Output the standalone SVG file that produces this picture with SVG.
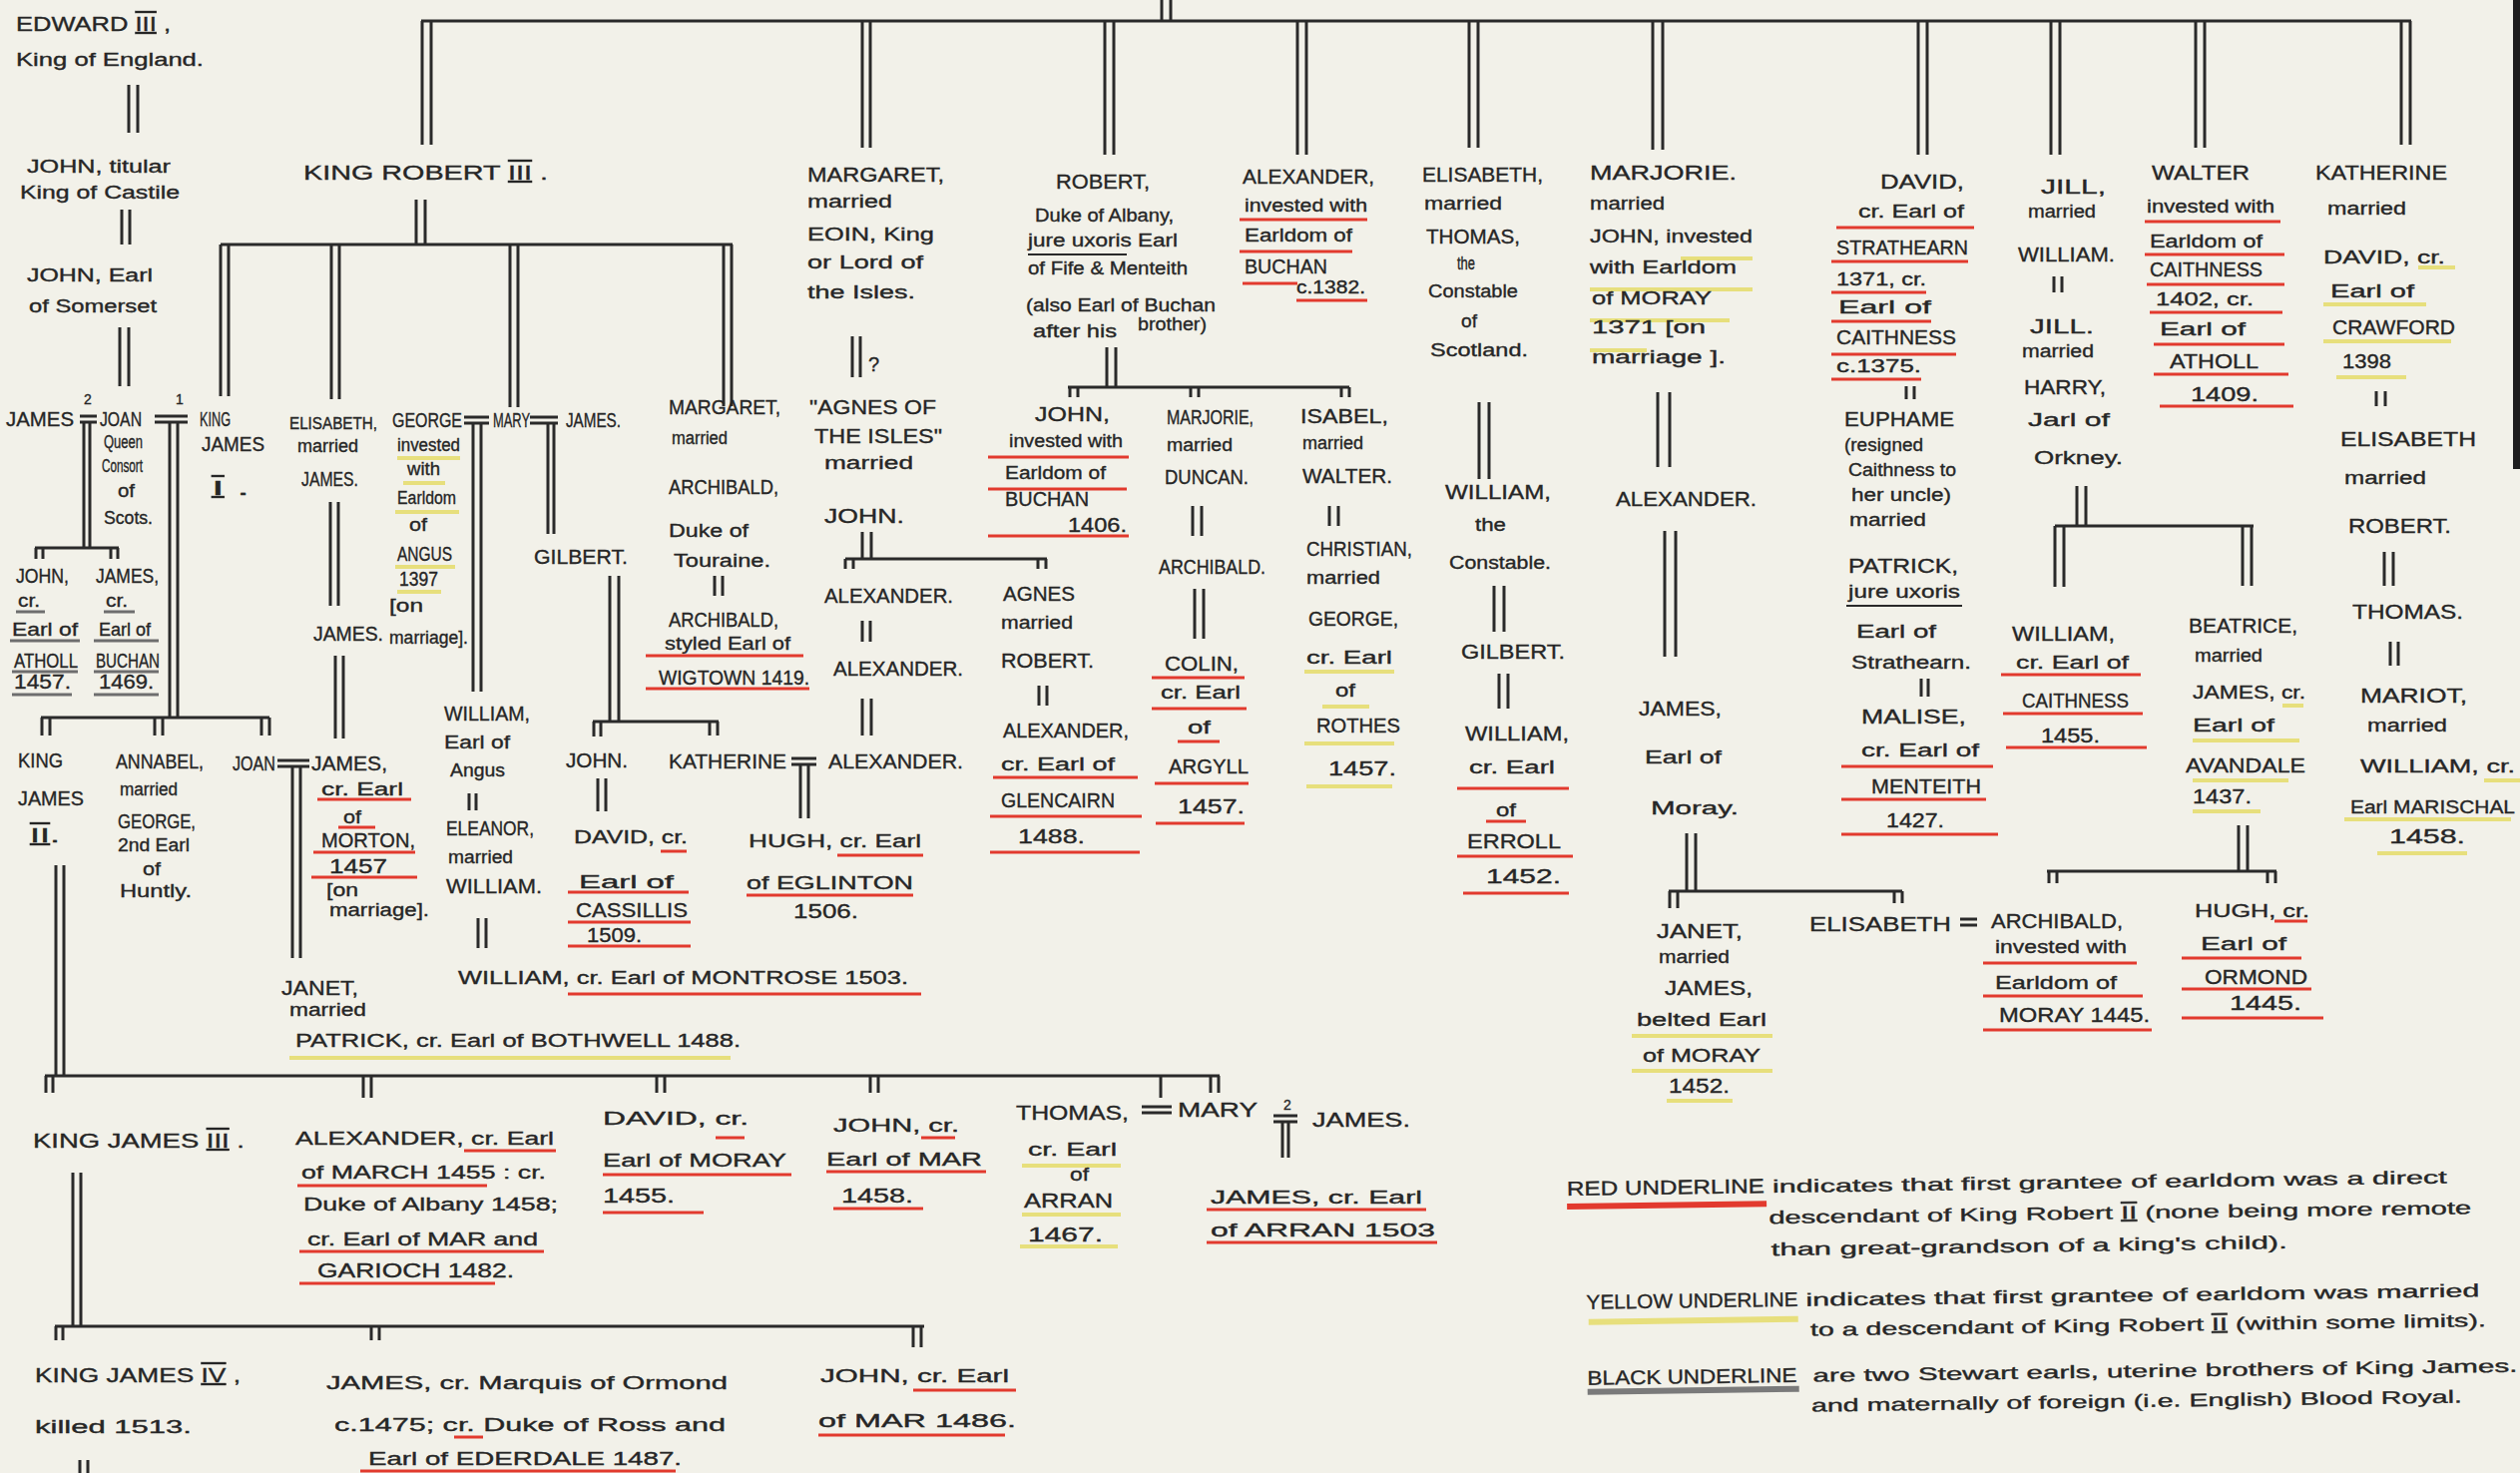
<svg xmlns="http://www.w3.org/2000/svg" width="2525" height="1476" viewBox="0 0 2525 1476">
<style>
text{font-family:"Liberation Sans","DejaVu Sans",sans-serif;fill:#262626;stroke:#262626;stroke-width:0.35}
.c{font-size:20px}
.w{font-size:18px}
.n{font-size:14px}
.sm{font-size:16px}
.k{fill:none;stroke:#2a2a2a;stroke-width:3}
.r{fill:none;stroke:#e23a2e;stroke-width:3}
.y{fill:none;stroke:#e7df7c;stroke-width:4}
.b{fill:none;stroke:#6e6e6e;stroke-width:3}
.u{fill:none;stroke:#2a2a2a;stroke-width:2}
.rn{text-decoration:underline overline}
</style>
<rect width="2525" height="1476" fill="#f2f1e9"/>
<rect x="2518" y="0" width="7" height="470" fill="#1e1e1e"/>

<g id="connectors" class="k">
<path d="M422 21H2416M1164 0V21M1173 0V21M423 21V145M432 21V145M864 21V148M872 21V148M1107 21V155M1116 21V155M1300 21V155M1309 21V155M1472 21V148M1481 21V148M1656 21V150M1666 21V150M1922 21V155M1931 21V155M2055 21V155M2064 21V155M2200 21V148M2209 21V148M2406 21V145M2415 21V145"/>
<path d="M129 85V133M138 85V133M122 210V245M130 210V245M120 328V387M129 328V387"/>
<path d="M417 200V245M426 200V245M221 245H734M221 245V397M229 245V397M332 245V400M340 245V400M511 245V408M519 245V408M725 245V407M733 245V407"/>
<path d="M80 417H97M80 423H97M84 423V549M90 423V549M35 549H119M36 549V560M43 549V560M111 549V560M118 549V560"/>
<path d="M155 417H188M155 423H188M170 423V719M178 423V719M41 719H270M42 719V737M50 719V737M155 719V737M163 719V737M262 719V737M270 719V737"/>
<path d="M56 867V1078M64 867V1078M45 1078H1222M46 1078V1095M53 1078V1095M364 1078V1100M372 1078V1100M658 1078V1095M666 1078V1095M872 1078V1095M880 1078V1095M1163 1078V1100M1213 1078V1095M1221 1078V1095"/>
<path d="M1144 1109H1174M1144 1115H1174M1276 1118H1300M1276 1124H1300M1285 1124V1160M1291 1124V1160"/>
<path d="M73 1175V1329M81 1175V1329M55 1329H926M56 1329V1343M63 1329V1343M372 1329V1343M380 1329V1343M915 1329V1350M923 1329V1350M80 1463V1476M88 1463V1476"/>
<path d="M465 418H490M465 424H490M474 424V693M482 424V693M531 418H559M531 424H559M549 424V535M555 424V535"/>
<path d="M611 577V723M620 577V723M594 723H720M595 723V738M602 723V738M711 723V737M719 723V737M599 780V813M607 780V813"/>
<path d="M470 795V812M477 795V812M479 920V950M487 920V950M331 503V607M339 503V607M336 657V740M344 657V740"/>
<path d="M278 762H310M278 768H310M293 768V960M301 768V960M793 760H818M793 766H818M802 766V820M810 766V820M716 577V597M724 577V597"/>
<path d="M854 337V378M862 337V378M864 533V560M873 533V560M847 560H1049M847 560V570M855 560V570M1040 560V570M1048 560V570M864 622V643M872 622V643M864 700V737M873 700V737M1041 687V707M1049 687V707"/>
<path d="M1109 348V388M1118 348V388M1070 388H1352M1072 388V398M1080 388V398M1193 388V398M1201 388V398M1344 388V398M1352 388V398M1195 507V537M1204 507V537M1197 590V640M1206 590V640M1332 507V527M1341 507V527"/>
<path d="M1482 403V480M1492 403V480M1497 587V633M1507 587V633M1502 675V710M1511 675V710"/>
<path d="M1661 393V468M1673 393V468M1668 532V658M1679 532V658M1690 835V893M1699 835V893M1672 893H1906M1673 893V910M1681 893V910M1898 893V905M1906 893V905M1964 921H1981M1964 927H1981"/>
<path d="M1910 387V400M1918 387V400M1925 680V698M1932 680V698"/>
<path d="M2058 277V293M2066 277V293M2081 487V527M2090 487V527M2059 527H2258M2059 527V588M2068 527V588M2247 527V587M2256 527V587M2243 827V873M2252 827V873M2051 873H2281M2053 873V885M2061 873V885M2272 873V885M2280 873V885"/>
<path d="M2381 392V407M2390 392V407M2389 553V587M2398 553V587M2395 643V667M2403 643V667"/>
</g>

<g id="marriage-numbers">
<text class="n" x="84" y="405">2</text>
<text class="n" x="176" y="405">1</text>
<text class="n" x="1286" y="1112">2</text>
</g>

<g id="edward-iii">
<text class="c" x="16" y="31" textLength="155" lengthAdjust="spacingAndGlyphs">EDWARD <tspan class="rn">III</tspan> ,</text>
<text class="w" x="16" y="66" textLength="188" lengthAdjust="spacingAndGlyphs">King of England.</text>
</g>
<g id="john-castile">
<text class="w" x="27" y="173" textLength="144" lengthAdjust="spacingAndGlyphs">JOHN, titular</text>
<text class="w" x="20" y="199" textLength="160" lengthAdjust="spacingAndGlyphs">King of Castile</text>
</g>
<g id="john-somerset">
<text class="w" x="27" y="282" textLength="126" lengthAdjust="spacingAndGlyphs">JOHN, Earl</text>
<text class="w" x="29" y="313" textLength="128" lengthAdjust="spacingAndGlyphs">of Somerset</text>
</g>
<g id="king-robert-iii">
<text class="c" x="304" y="180" textLength="245" lengthAdjust="spacingAndGlyphs">KING ROBERT <tspan class="rn">III</tspan> .</text>
</g>
<g id="james-second-husband"><text class="c" x="6" y="427" textLength="68" lengthAdjust="spacingAndGlyphs">JAMES</text></g>
<g id="joan-beaufort">
<text class="c" x="100" y="427" textLength="42" lengthAdjust="spacingAndGlyphs">JOAN</text>
<text class="w" x="104" y="449" textLength="39" lengthAdjust="spacingAndGlyphs">Queen</text>
<text class="w" x="102" y="473" textLength="41" lengthAdjust="spacingAndGlyphs">Consort</text>
<text class="w" x="118" y="498" textLength="17" lengthAdjust="spacingAndGlyphs">of</text>
<text class="w" x="104" y="525" textLength="49" lengthAdjust="spacingAndGlyphs">Scots.</text>
</g>
<g id="king-james-i">
<text class="c" x="200" y="427" textLength="31" lengthAdjust="spacingAndGlyphs">KING</text>
<text class="c" x="202" y="452" textLength="63" lengthAdjust="spacingAndGlyphs">JAMES</text>
<text class="c" x="212" y="496" textLength="38" lengthAdjust="spacingAndGlyphs"><tspan class="rn">I</tspan> .</text>
</g>
<g id="john-atholl">
<text class="c" x="16" y="584" textLength="53" lengthAdjust="spacingAndGlyphs">JOHN,</text>
<text class="w" x="18" y="608" textLength="22" lengthAdjust="spacingAndGlyphs">cr.</text><path class="b" d="M16 613H45"/>
<text class="w" x="12" y="637" textLength="66" lengthAdjust="spacingAndGlyphs">Earl of</text><path class="b" d="M10 642H80"/>
<text class="c" x="14" y="669" textLength="64" lengthAdjust="spacingAndGlyphs">ATHOLL</text><path class="b" d="M12 673H78"/>
<text class="c" x="14" y="690" textLength="57" lengthAdjust="spacingAndGlyphs">1457.</text><path class="b" d="M12 696H72"/>
</g>
<g id="james-buchan">
<text class="c" x="96" y="584" textLength="63" lengthAdjust="spacingAndGlyphs">JAMES,</text>
<text class="w" x="106" y="608" textLength="22" lengthAdjust="spacingAndGlyphs">cr.</text><path class="b" d="M104 613H135"/>
<text class="w" x="99" y="637" textLength="52" lengthAdjust="spacingAndGlyphs">Earl of</text><path class="b" d="M94 642H159"/>
<text class="c" x="96" y="669" textLength="64" lengthAdjust="spacingAndGlyphs">BUCHAN</text><path class="b" d="M94 673H159"/>
<text class="c" x="99" y="690" textLength="55" lengthAdjust="spacingAndGlyphs">1469.</text><path class="b" d="M94 696H159"/>
</g>
<g id="king-james-ii">
<text class="c" x="18" y="769" textLength="45" lengthAdjust="spacingAndGlyphs">KING</text>
<text class="c" x="18" y="807" textLength="66" lengthAdjust="spacingAndGlyphs">JAMES</text>
<text class="c" x="30" y="844" textLength="30" lengthAdjust="spacingAndGlyphs"><tspan class="rn">II</tspan>.</text>
</g>
<g id="annabel">
<text class="c" x="116" y="770" textLength="88" lengthAdjust="spacingAndGlyphs">ANNABEL,</text>
<text class="w" x="120" y="797" textLength="58" lengthAdjust="spacingAndGlyphs">married</text>
<text class="c" x="118" y="830" textLength="78" lengthAdjust="spacingAndGlyphs">GEORGE,</text>
<text class="w" x="118" y="853" textLength="72" lengthAdjust="spacingAndGlyphs">2nd Earl</text>
<text class="w" x="143" y="877" textLength="18" lengthAdjust="spacingAndGlyphs">of</text>
<text class="w" x="120" y="899" textLength="72" lengthAdjust="spacingAndGlyphs">Huntly.</text>
</g>
<g id="joan-daughter"><text class="c" x="233" y="772" textLength="43" lengthAdjust="spacingAndGlyphs">JOAN</text></g>
<g id="james-morton">
<text class="c" x="312" y="772" textLength="76" lengthAdjust="spacingAndGlyphs">JAMES,</text>
<text class="w" x="322" y="797" textLength="82" lengthAdjust="spacingAndGlyphs">cr. Earl</text><path class="r" d="M318 801H412"/>
<text class="w" x="344" y="825" textLength="18" lengthAdjust="spacingAndGlyphs">of</text><path class="r" d="M339 829H376"/>
<text class="c" x="322" y="849" textLength="94" lengthAdjust="spacingAndGlyphs">MORTON,</text><path class="r" d="M314 854H416"/>
<text class="c" x="330" y="875" textLength="58" lengthAdjust="spacingAndGlyphs">1457</text><path class="r" d="M312 879H418"/>
<text class="w" x="327" y="898" textLength="32" lengthAdjust="spacingAndGlyphs">[on</text>
<text class="w" x="330" y="918" textLength="100" lengthAdjust="spacingAndGlyphs">marriage].</text>
</g>
<g id="janet-bothwell">
<text class="c" x="282" y="997" textLength="77" lengthAdjust="spacingAndGlyphs">JANET,</text>
<text class="w" x="290" y="1018" textLength="77" lengthAdjust="spacingAndGlyphs">married</text>
<text class="w" x="296" y="1049" textLength="446" lengthAdjust="spacingAndGlyphs">PATRICK, cr. Earl of BOTHWELL 1488.</text><path class="y" d="M290 1060H732"/>
</g>
<g id="elisabeth-robert-iii">
<text class="sm" x="290" y="430" textLength="88" lengthAdjust="spacingAndGlyphs">ELISABETH,</text>
<text class="w" x="298" y="453" textLength="61" lengthAdjust="spacingAndGlyphs">married</text>
<text class="c" x="302" y="487" textLength="57" lengthAdjust="spacingAndGlyphs">JAMES.</text>
</g>
<g id="james-son"><text class="c" x="314" y="642" textLength="70" lengthAdjust="spacingAndGlyphs">JAMES.</text></g>
<g id="george-angus">
<text class="c" x="393" y="428" textLength="70" lengthAdjust="spacingAndGlyphs">GEORGE</text>
<text class="w" x="398" y="452" textLength="63" lengthAdjust="spacingAndGlyphs">invested</text><path class="y" d="M398 459H461"/>
<text class="w" x="408" y="476" textLength="33" lengthAdjust="spacingAndGlyphs">with</text><path class="y" d="M404 484H446"/>
<text class="w" x="398" y="505" textLength="59" lengthAdjust="spacingAndGlyphs">Earldom</text><path class="y" d="M396 513H460"/>
<text class="w" x="410" y="532" textLength="18" lengthAdjust="spacingAndGlyphs">of</text>
<text class="c" x="398" y="562" textLength="55" lengthAdjust="spacingAndGlyphs">ANGUS</text><path class="y" d="M396 568H456"/>
<text class="c" x="400" y="587" textLength="39" lengthAdjust="spacingAndGlyphs">1397</text><path class="y" d="M398 593H442"/>
<text class="w" x="390" y="613" textLength="34" lengthAdjust="spacingAndGlyphs">[on</text>
<text class="w" x="390" y="645" textLength="79" lengthAdjust="spacingAndGlyphs">marriage].</text>
</g>
<g id="mary-robert-iii"><text class="c" x="494" y="428" textLength="37" lengthAdjust="spacingAndGlyphs">MARY</text></g>
<g id="james-mary"><text class="c" x="567" y="428" textLength="55" lengthAdjust="spacingAndGlyphs">JAMES.</text></g>
<g id="gilbert"><text class="c" x="535" y="565" textLength="94" lengthAdjust="spacingAndGlyphs">GILBERT.</text></g>
<g id="william-angus">
<text class="c" x="445" y="722" textLength="86" lengthAdjust="spacingAndGlyphs">WILLIAM,</text>
<text class="w" x="445" y="750" textLength="66" lengthAdjust="spacingAndGlyphs">Earl of</text>
<text class="w" x="451" y="778" textLength="55" lengthAdjust="spacingAndGlyphs">Angus</text>
<text class="c" x="447" y="837" textLength="88" lengthAdjust="spacingAndGlyphs">ELEANOR,</text>
<text class="w" x="449" y="865" textLength="65" lengthAdjust="spacingAndGlyphs">married</text>
<text class="c" x="447" y="895" textLength="96" lengthAdjust="spacingAndGlyphs">WILLIAM.</text>
</g>
<g id="william-montrose">
<text class="w" x="459" y="986" textLength="451" lengthAdjust="spacingAndGlyphs">WILLIAM, cr. Earl of MONTROSE 1503.</text><path class="r" d="M569 996H923"/>
</g>
<g id="john-gilbert"><text class="c" x="567" y="769" textLength="62" lengthAdjust="spacingAndGlyphs">JOHN.</text></g>
<g id="david-cassillis">
<text class="w" x="575" y="845" textLength="114" lengthAdjust="spacingAndGlyphs">DAVID, cr.</text><path class="r" d="M662 853H688"/>
<text class="w" x="580" y="890" textLength="95" lengthAdjust="spacingAndGlyphs">Earl of</text><path class="r" d="M569 894H690"/>
<text class="c" x="577" y="919" textLength="112" lengthAdjust="spacingAndGlyphs">CASSILLIS</text><path class="r" d="M569 924H692"/>
<text class="c" x="588" y="944" textLength="55" lengthAdjust="spacingAndGlyphs">1509.</text><path class="r" d="M569 948H692"/>
</g>
<g id="katherine-gilbert"><text class="c" x="670" y="770" textLength="118" lengthAdjust="spacingAndGlyphs">KATHERINE</text></g>
<g id="alexander-katherine"><text class="c" x="830" y="770" textLength="135" lengthAdjust="spacingAndGlyphs">ALEXANDER.</text></g>
<g id="hugh-eglinton">
<text class="w" x="750" y="849" textLength="173" lengthAdjust="spacingAndGlyphs">HUGH, cr. Earl</text><path class="r" d="M839 857H925"/>
<text class="w" x="748" y="891" textLength="167" lengthAdjust="spacingAndGlyphs">of EGLINTON</text><path class="r" d="M748 897H915"/>
<text class="c" x="795" y="920" textLength="65" lengthAdjust="spacingAndGlyphs">1506.</text>
</g>
<g id="margaret-robert-iii">
<text class="c" x="670" y="415" textLength="112" lengthAdjust="spacingAndGlyphs">MARGARET,</text>
<text class="w" x="673" y="445" textLength="56" lengthAdjust="spacingAndGlyphs">married</text>
<text class="c" x="670" y="495" textLength="110" lengthAdjust="spacingAndGlyphs">ARCHIBALD,</text>
<text class="w" x="670" y="538" textLength="80" lengthAdjust="spacingAndGlyphs">Duke of</text>
<text class="w" x="675" y="568" textLength="97" lengthAdjust="spacingAndGlyphs">Touraine.</text>
</g>
<g id="archibald-wigtown">
<text class="c" x="670" y="628" textLength="110" lengthAdjust="spacingAndGlyphs">ARCHIBALD,</text>
<text class="w" x="666" y="651" textLength="126" lengthAdjust="spacingAndGlyphs">styled Earl of</text><path class="r" d="M647 657H805"/>
<text class="c" x="660" y="686" textLength="151" lengthAdjust="spacingAndGlyphs">WIGTOWN 1419.</text><path class="r" d="M647 690H811"/>
</g>
<g id="margaret-robert-ii">
<text class="c" x="809" y="182" textLength="137" lengthAdjust="spacingAndGlyphs">MARGARET,</text>
<text class="w" x="809" y="208" textLength="85" lengthAdjust="spacingAndGlyphs">married</text>
<text class="w" x="809" y="241" textLength="127" lengthAdjust="spacingAndGlyphs">EOIN, King</text>
<text class="w" x="809" y="269" textLength="116" lengthAdjust="spacingAndGlyphs">or Lord of</text>
<text class="w" x="809" y="299" textLength="108" lengthAdjust="spacingAndGlyphs">the Isles.</text>
<text class="c" x="870" y="372">?</text>
</g>
<g id="agnes-of-the-isles">
<text class="c" x="811" y="415" textLength="127" lengthAdjust="spacingAndGlyphs">"AGNES OF</text>
<text class="c" x="816" y="444" textLength="128" lengthAdjust="spacingAndGlyphs">THE ISLES"</text>
<text class="w" x="826" y="470" textLength="89" lengthAdjust="spacingAndGlyphs">married</text>
<text class="c" x="826" y="524" textLength="80" lengthAdjust="spacingAndGlyphs">JOHN.</text>
</g>
<g id="alexander-1"><text class="c" x="826" y="604" textLength="129" lengthAdjust="spacingAndGlyphs">ALEXANDER.</text></g>
<g id="alexander-2"><text class="c" x="835" y="677" textLength="130" lengthAdjust="spacingAndGlyphs">ALEXANDER.</text></g>
<g id="agnes-robert">
<text class="c" x="1005" y="602" textLength="72" lengthAdjust="spacingAndGlyphs">AGNES</text>
<text class="w" x="1003" y="630" textLength="72" lengthAdjust="spacingAndGlyphs">married</text>
<text class="c" x="1003" y="669" textLength="93" lengthAdjust="spacingAndGlyphs">ROBERT.</text>
</g>
<g id="alexander-glencairn">
<text class="c" x="1005" y="739" textLength="126" lengthAdjust="spacingAndGlyphs">ALEXANDER,</text>
<text class="w" x="1003" y="772" textLength="114" lengthAdjust="spacingAndGlyphs">cr. Earl of</text><path class="r" d="M995 779H1140"/>
<text class="c" x="1003" y="809" textLength="114" lengthAdjust="spacingAndGlyphs">GLENCAIRN</text><path class="r" d="M992 818H1144"/>
<text class="c" x="1020" y="845" textLength="67" lengthAdjust="spacingAndGlyphs">1488.</text><path class="r" d="M992 854H1142"/>
</g>
<g id="robert-albany">
<text class="c" x="1058" y="189" textLength="94" lengthAdjust="spacingAndGlyphs">ROBERT,</text>
<text class="w" x="1037" y="222" textLength="139" lengthAdjust="spacingAndGlyphs">Duke of Albany,</text>
<text class="w" x="1030" y="247" textLength="150" lengthAdjust="spacingAndGlyphs">jure uxoris Earl</text><path class="u" d="M1030 255H1129"/>
<text class="w" x="1030" y="275" textLength="160" lengthAdjust="spacingAndGlyphs">of Fife &amp; Menteith</text>
<text class="w" x="1028" y="312" textLength="190" lengthAdjust="spacingAndGlyphs">(also Earl of Buchan</text>
<text class="w" x="1035" y="338" textLength="84" lengthAdjust="spacingAndGlyphs">after his</text>
<text class="w" x="1140" y="331" textLength="69" lengthAdjust="spacingAndGlyphs">brother)</text>
</g>
<g id="john-buchan">
<text class="c" x="1037" y="422" textLength="75" lengthAdjust="spacingAndGlyphs">JOHN,</text>
<text class="w" x="1011" y="448" textLength="114" lengthAdjust="spacingAndGlyphs">invested with</text><path class="r" d="M990 458H1131"/>
<text class="w" x="1007" y="480" textLength="101" lengthAdjust="spacingAndGlyphs">Earldom of</text><path class="r" d="M990 490H1129"/>
<text class="c" x="1007" y="507" textLength="84" lengthAdjust="spacingAndGlyphs">BUCHAN</text>
<text class="c" x="1070" y="533" textLength="59" lengthAdjust="spacingAndGlyphs">1406.</text><path class="r" d="M990 537H1131"/>
</g>
<g id="marjorie-albany">
<text class="c" x="1169" y="425" textLength="87" lengthAdjust="spacingAndGlyphs">MARJORIE,</text>
<text class="w" x="1169" y="452" textLength="66" lengthAdjust="spacingAndGlyphs">married</text>
<text class="c" x="1167" y="485" textLength="84" lengthAdjust="spacingAndGlyphs">DUNCAN.</text>
</g>
<g id="archibald-duncan"><text class="c" x="1161" y="575" textLength="107" lengthAdjust="spacingAndGlyphs">ARCHIBALD.</text></g>
<g id="colin-argyll">
<text class="c" x="1167" y="672" textLength="74" lengthAdjust="spacingAndGlyphs">COLIN,</text><path class="r" d="M1154 679H1247"/>
<text class="w" x="1163" y="700" textLength="80" lengthAdjust="spacingAndGlyphs">cr. Earl</text><path class="r" d="M1154 710H1249"/>
<text class="w" x="1190" y="735" textLength="23" lengthAdjust="spacingAndGlyphs">of</text><path class="r" d="M1180 743H1222"/>
<text class="c" x="1171" y="775" textLength="80" lengthAdjust="spacingAndGlyphs">ARGYLL</text><path class="r" d="M1157 785H1251"/>
<text class="c" x="1180" y="815" textLength="67" lengthAdjust="spacingAndGlyphs">1457.</text><path class="r" d="M1158 825H1247"/>
</g>
<g id="isabel">
<text class="c" x="1303" y="424" textLength="88" lengthAdjust="spacingAndGlyphs">ISABEL,</text>
<text class="w" x="1305" y="450" textLength="61" lengthAdjust="spacingAndGlyphs">married</text>
<text class="c" x="1305" y="484" textLength="90" lengthAdjust="spacingAndGlyphs">WALTER.</text>
</g>
<g id="christian-rothes">
<text class="c" x="1309" y="557" textLength="106" lengthAdjust="spacingAndGlyphs">CHRISTIAN,</text>
<text class="w" x="1309" y="585" textLength="74" lengthAdjust="spacingAndGlyphs">married</text>
<text class="c" x="1311" y="627" textLength="90" lengthAdjust="spacingAndGlyphs">GEORGE,</text>
<text class="w" x="1309" y="665" textLength="86" lengthAdjust="spacingAndGlyphs">cr. Earl</text><path class="y" d="M1307 673H1397"/>
<text class="w" x="1338" y="698" textLength="20" lengthAdjust="spacingAndGlyphs">of</text><path class="y" d="M1325 708H1372"/>
<text class="c" x="1319" y="734" textLength="84" lengthAdjust="spacingAndGlyphs">ROTHES</text><path class="y" d="M1307 745H1397"/>
<text class="c" x="1331" y="777" textLength="68" lengthAdjust="spacingAndGlyphs">1457.</text><path class="y" d="M1309 788H1395"/>
</g>
<g id="alexander-buchan">
<text class="c" x="1245" y="184" textLength="132" lengthAdjust="spacingAndGlyphs">ALEXANDER,</text>
<text class="w" x="1247" y="212" textLength="123" lengthAdjust="spacingAndGlyphs">invested with</text><path class="r" d="M1242 220H1370"/>
<text class="w" x="1247" y="242" textLength="108" lengthAdjust="spacingAndGlyphs">Earldom of</text><path class="r" d="M1242 252H1355"/>
<text class="c" x="1247" y="274" textLength="83" lengthAdjust="spacingAndGlyphs">BUCHAN</text><path class="r" d="M1245 284H1300"/>
<text class="w" x="1299" y="294" textLength="69" lengthAdjust="spacingAndGlyphs">c.1382.</text><path class="r" d="M1299 301H1370"/>
</g>
<g id="elisabeth-robert-ii">
<text class="c" x="1425" y="182" textLength="121" lengthAdjust="spacingAndGlyphs">ELISABETH,</text>
<text class="w" x="1427" y="210" textLength="78" lengthAdjust="spacingAndGlyphs">married</text>
<text class="c" x="1429" y="244" textLength="94" lengthAdjust="spacingAndGlyphs">THOMAS,</text>
<text class="w" x="1460" y="270" textLength="18" lengthAdjust="spacingAndGlyphs">the</text>
<text class="w" x="1431" y="298" textLength="90" lengthAdjust="spacingAndGlyphs">Constable</text>
<text class="w" x="1464" y="328" textLength="16" lengthAdjust="spacingAndGlyphs">of</text>
<text class="w" x="1433" y="357" textLength="98" lengthAdjust="spacingAndGlyphs">Scotland.</text>
</g>
<g id="william-constable">
<text class="c" x="1448" y="500" textLength="106" lengthAdjust="spacingAndGlyphs">WILLIAM,</text>
<text class="w" x="1478" y="532" textLength="31" lengthAdjust="spacingAndGlyphs">the</text>
<text class="w" x="1452" y="570" textLength="102" lengthAdjust="spacingAndGlyphs">Constable.</text>
</g>
<g id="gilbert-constable"><text class="c" x="1464" y="660" textLength="104" lengthAdjust="spacingAndGlyphs">GILBERT.</text></g>
<g id="william-erroll">
<text class="c" x="1468" y="742" textLength="104" lengthAdjust="spacingAndGlyphs">WILLIAM,</text>
<text class="w" x="1472" y="775" textLength="86" lengthAdjust="spacingAndGlyphs">cr. Earl</text><path class="r" d="M1460 790H1572"/>
<text class="w" x="1499" y="818" textLength="20" lengthAdjust="spacingAndGlyphs">of</text><path class="r" d="M1489 823H1529"/>
<text class="c" x="1470" y="850" textLength="94" lengthAdjust="spacingAndGlyphs">ERROLL</text><path class="r" d="M1460 858H1576"/>
<text class="c" x="1489" y="885" textLength="75" lengthAdjust="spacingAndGlyphs">1452.</text><path class="r" d="M1466 895H1572"/>
</g>
<g id="marjorie-robert-ii">
<text class="c" x="1593" y="180" textLength="147" lengthAdjust="spacingAndGlyphs">MARJORIE.</text>
<text class="w" x="1593" y="210" textLength="75" lengthAdjust="spacingAndGlyphs">married</text>
<text class="w" x="1593" y="243" textLength="163" lengthAdjust="spacingAndGlyphs">JOHN, invested</text><path class="y" d="M1684 259H1756"/>
<text class="w" x="1593" y="274" textLength="147" lengthAdjust="spacingAndGlyphs">with Earldom</text><path class="y" d="M1593 290H1756"/>
<text class="w" x="1595" y="305" textLength="120" lengthAdjust="spacingAndGlyphs">of MORAY</text><path class="y" d="M1593 321H1733"/>
<text class="w" x="1595" y="334" textLength="114" lengthAdjust="spacingAndGlyphs">1371 [on</text><path class="y" d="M1593 351H1650"/>
<text class="w" x="1595" y="364" textLength="134" lengthAdjust="spacingAndGlyphs">marriage ].</text>
</g>
<g id="alexander-moray"><text class="c" x="1619" y="507" textLength="141" lengthAdjust="spacingAndGlyphs">ALEXANDER.</text></g>
<g id="james-moray">
<text class="c" x="1642" y="717" textLength="83" lengthAdjust="spacingAndGlyphs">JAMES,</text>
<text class="w" x="1648" y="765" textLength="77" lengthAdjust="spacingAndGlyphs">Earl of</text>
<text class="w" x="1654" y="816" textLength="88" lengthAdjust="spacingAndGlyphs">Moray.</text>
</g>
<g id="janet-moray">
<text class="c" x="1660" y="940" textLength="86" lengthAdjust="spacingAndGlyphs">JANET,</text>
<text class="w" x="1662" y="965" textLength="71" lengthAdjust="spacingAndGlyphs">married</text>
<text class="c" x="1668" y="997" textLength="88" lengthAdjust="spacingAndGlyphs">JAMES,</text>
<text class="w" x="1640" y="1028" textLength="130" lengthAdjust="spacingAndGlyphs">belted Earl</text><path class="y" d="M1635 1038H1776"/>
<text class="w" x="1646" y="1064" textLength="118" lengthAdjust="spacingAndGlyphs">of MORAY</text><path class="y" d="M1635 1073H1776"/>
<text class="c" x="1672" y="1095" textLength="61" lengthAdjust="spacingAndGlyphs">1452.</text><path class="y" d="M1670 1103H1736"/>
</g>
<g id="david-strathearn">
<text class="c" x="1884" y="189" textLength="84" lengthAdjust="spacingAndGlyphs">DAVID,</text>
<text class="w" x="1862" y="218" textLength="106" lengthAdjust="spacingAndGlyphs">cr. Earl of</text><path class="r" d="M1840 228H1978"/>
<text class="c" x="1840" y="255" textLength="132" lengthAdjust="spacingAndGlyphs">STRATHEARN</text><path class="r" d="M1835 262H1972"/>
<text class="w" x="1840" y="286" textLength="90" lengthAdjust="spacingAndGlyphs">1371, cr.</text><path class="r" d="M1835 293H1930"/>
<text class="w" x="1842" y="314" textLength="93" lengthAdjust="spacingAndGlyphs">Earl of</text><path class="r" d="M1835 322H1935"/>
<text class="c" x="1840" y="345" textLength="120" lengthAdjust="spacingAndGlyphs">CAITHNESS</text><path class="r" d="M1835 355H1960"/>
<text class="w" x="1840" y="373" textLength="85" lengthAdjust="spacingAndGlyphs">c.1375.</text><path class="r" d="M1835 380H1925"/>
</g>
<g id="euphame">
<text class="c" x="1848" y="427" textLength="110" lengthAdjust="spacingAndGlyphs">EUPHAME</text>
<text class="w" x="1848" y="452" textLength="79" lengthAdjust="spacingAndGlyphs">(resigned</text>
<text class="w" x="1852" y="477" textLength="108" lengthAdjust="spacingAndGlyphs">Caithness to</text>
<text class="w" x="1855" y="502" textLength="100" lengthAdjust="spacingAndGlyphs">her uncle)</text>
<text class="w" x="1853" y="527" textLength="77" lengthAdjust="spacingAndGlyphs">married</text>
</g>
<g id="patrick-strathearn">
<text class="c" x="1852" y="574" textLength="110" lengthAdjust="spacingAndGlyphs">PATRICK,</text>
<text class="w" x="1852" y="599" textLength="112" lengthAdjust="spacingAndGlyphs">jure uxoris</text><path class="u" d="M1850 607H1966"/>
<text class="w" x="1860" y="639" textLength="80" lengthAdjust="spacingAndGlyphs">Earl of</text>
<text class="w" x="1855" y="670" textLength="120" lengthAdjust="spacingAndGlyphs">Strathearn.</text>
</g>
<g id="malise-menteith">
<text class="c" x="1865" y="725" textLength="105" lengthAdjust="spacingAndGlyphs">MALISE,</text>
<text class="w" x="1865" y="758" textLength="118" lengthAdjust="spacingAndGlyphs">cr. Earl of</text><path class="r" d="M1845 768H1997"/>
<text class="c" x="1875" y="795" textLength="110" lengthAdjust="spacingAndGlyphs">MENTEITH</text><path class="r" d="M1845 801H1990"/>
<text class="c" x="1890" y="829" textLength="58" lengthAdjust="spacingAndGlyphs">1427.</text><path class="r" d="M1845 836H2002"/>
</g>
<g id="jill">
<text class="c" x="2045" y="194" textLength="65" lengthAdjust="spacingAndGlyphs">JILL,</text>
<text class="w" x="2032" y="218" textLength="68" lengthAdjust="spacingAndGlyphs">married</text>
<text class="c" x="2022" y="262" textLength="97" lengthAdjust="spacingAndGlyphs">WILLIAM.</text>
</g>
<g id="jill-orkney">
<text class="c" x="2034" y="334" textLength="64" lengthAdjust="spacingAndGlyphs">JILL.</text>
<text class="w" x="2026" y="358" textLength="72" lengthAdjust="spacingAndGlyphs">married</text>
<text class="c" x="2028" y="395" textLength="82" lengthAdjust="spacingAndGlyphs">HARRY,</text>
<text class="w" x="2032" y="427" textLength="82" lengthAdjust="spacingAndGlyphs">Jarl of</text>
<text class="w" x="2038" y="465" textLength="89" lengthAdjust="spacingAndGlyphs">Orkney.</text>
</g>
<g id="william-caithness">
<text class="c" x="2016" y="642" textLength="103" lengthAdjust="spacingAndGlyphs">WILLIAM,</text>
<text class="w" x="2020" y="670" textLength="113" lengthAdjust="spacingAndGlyphs">cr. Earl of</text><path class="r" d="M2005 676H2145"/>
<text class="c" x="2026" y="709" textLength="107" lengthAdjust="spacingAndGlyphs">CAITHNESS</text><path class="r" d="M2007 715H2147"/>
<text class="c" x="2045" y="744" textLength="59" lengthAdjust="spacingAndGlyphs">1455.</text><path class="r" d="M2010 749H2151"/>
</g>
<g id="beatrice">
<text class="c" x="2193" y="634" textLength="109" lengthAdjust="spacingAndGlyphs">BEATRICE,</text>
<text class="w" x="2199" y="663" textLength="68" lengthAdjust="spacingAndGlyphs">married</text>
<text class="w" x="2197" y="700" textLength="113" lengthAdjust="spacingAndGlyphs">JAMES, cr.</text><path class="y" d="M2287 707H2308"/>
<text class="w" x="2197" y="733" textLength="82" lengthAdjust="spacingAndGlyphs">Earl of</text><path class="y" d="M2197 742H2304"/>
<text class="c" x="2190" y="774" textLength="120" lengthAdjust="spacingAndGlyphs">AVANDALE</text><path class="y" d="M2197 782H2293"/>
<text class="c" x="2197" y="805" textLength="59" lengthAdjust="spacingAndGlyphs">1437.</text><path class="y" d="M2197 813H2265"/>
</g>
<g id="elisabeth-moray"><text class="c" x="1813" y="933" textLength="142" lengthAdjust="spacingAndGlyphs">ELISABETH</text></g>
<g id="archibald-moray">
<text class="c" x="1995" y="930" textLength="132" lengthAdjust="spacingAndGlyphs">ARCHIBALD,</text>
<text class="w" x="1999" y="955" textLength="132" lengthAdjust="spacingAndGlyphs">invested with</text><path class="r" d="M1987 965H2141"/>
<text class="w" x="1999" y="991" textLength="122" lengthAdjust="spacingAndGlyphs">Earldom of</text><path class="r" d="M1987 998H2147"/>
<text class="c" x="2003" y="1024" textLength="151" lengthAdjust="spacingAndGlyphs">MORAY 1445.</text><path class="r" d="M1987 1032H2156"/>
</g>
<g id="hugh-ormond">
<text class="w" x="2199" y="919" textLength="115" lengthAdjust="spacingAndGlyphs">HUGH, cr.</text><path class="r" d="M2279 923H2312"/>
<text class="w" x="2205" y="952" textLength="86" lengthAdjust="spacingAndGlyphs">Earl of</text><path class="r" d="M2186 960H2306"/>
<text class="c" x="2209" y="986" textLength="103" lengthAdjust="spacingAndGlyphs">ORMOND</text><path class="r" d="M2186 991H2316"/>
<text class="c" x="2234" y="1012" textLength="72" lengthAdjust="spacingAndGlyphs">1445.</text><path class="r" d="M2186 1020H2328"/>
</g>
<g id="walter">
<text class="c" x="2156" y="180" textLength="98" lengthAdjust="spacingAndGlyphs">WALTER</text>
<text class="w" x="2151" y="213" textLength="128" lengthAdjust="spacingAndGlyphs">invested with</text><path class="r" d="M2149 222H2285"/>
<text class="w" x="2154" y="248" textLength="113" lengthAdjust="spacingAndGlyphs">Earldom of</text><path class="r" d="M2149 255H2289"/>
<text class="c" x="2154" y="277" textLength="113" lengthAdjust="spacingAndGlyphs">CAITHNESS</text><path class="r" d="M2151 285H2289"/>
<text class="w" x="2160" y="306" textLength="98" lengthAdjust="spacingAndGlyphs">1402, cr.</text><path class="r" d="M2154 313H2287"/>
<text class="w" x="2164" y="336" textLength="86" lengthAdjust="spacingAndGlyphs">Earl of</text><path class="r" d="M2158 345H2289"/>
<text class="c" x="2174" y="369" textLength="89" lengthAdjust="spacingAndGlyphs">ATHOLL</text><path class="r" d="M2158 375H2293"/>
<text class="c" x="2195" y="402" textLength="68" lengthAdjust="spacingAndGlyphs">1409.</text><path class="r" d="M2164 407H2298"/>
</g>
<g id="katherine-robert-ii">
<text class="c" x="2320" y="180" textLength="132" lengthAdjust="spacingAndGlyphs">KATHERINE</text>
<text class="w" x="2332" y="215" textLength="79" lengthAdjust="spacingAndGlyphs">married</text>
<text class="w" x="2328" y="264" textLength="122" lengthAdjust="spacingAndGlyphs">DAVID, cr.</text><path class="y" d="M2423 268H2460"/>
<text class="w" x="2335" y="298" textLength="84" lengthAdjust="spacingAndGlyphs">Earl of</text><path class="y" d="M2328 305H2431"/>
<text class="c" x="2337" y="335" textLength="123" lengthAdjust="spacingAndGlyphs">CRAWFORD</text><path class="y" d="M2328 342H2456"/>
<text class="c" x="2347" y="369" textLength="49" lengthAdjust="spacingAndGlyphs">1398</text><path class="y" d="M2341 378H2411"/>
</g>
<g id="elisabeth-crawford">
<text class="c" x="2345" y="447" textLength="136" lengthAdjust="spacingAndGlyphs">ELISABETH</text>
<text class="w" x="2349" y="485" textLength="82" lengthAdjust="spacingAndGlyphs">married</text>
<text class="c" x="2353" y="534" textLength="103" lengthAdjust="spacingAndGlyphs">ROBERT.</text>
</g>
<g id="thomas-crawford"><text class="c" x="2357" y="620" textLength="111" lengthAdjust="spacingAndGlyphs">THOMAS.</text></g>
<g id="mariot">
<text class="c" x="2365" y="704" textLength="107" lengthAdjust="spacingAndGlyphs">MARIOT,</text>
<text class="w" x="2372" y="733" textLength="80" lengthAdjust="spacingAndGlyphs">married</text>
<text class="w" x="2365" y="774" textLength="155" lengthAdjust="spacingAndGlyphs">WILLIAM, cr.</text><path class="y" d="M2489 782H2525"/>
<text class="w" x="2355" y="815" textLength="165" lengthAdjust="spacingAndGlyphs">Earl MARISCHAL</text><path class="y" d="M2349 821H2516"/>
<text class="c" x="2394" y="845" textLength="76" lengthAdjust="spacingAndGlyphs">1458.</text><path class="y" d="M2382 855H2472"/>
</g>
<g id="king-james-iii"><text class="c" x="33" y="1150" textLength="212" lengthAdjust="spacingAndGlyphs">KING JAMES <tspan class="rn">III</tspan> .</text></g>
<g id="alexander-albany-march">
<text class="w" x="296" y="1147" textLength="259" lengthAdjust="spacingAndGlyphs">ALEXANDER, cr. Earl</text><path class="r" d="M465 1153H557"/>
<text class="w" x="302" y="1181" textLength="245" lengthAdjust="spacingAndGlyphs">of MARCH 1455 : cr.</text><path class="r" d="M298 1188H488"/>
<text class="w" x="304" y="1213" textLength="255" lengthAdjust="spacingAndGlyphs">Duke of Albany 1458;</text>
<text class="w" x="308" y="1248" textLength="231" lengthAdjust="spacingAndGlyphs">cr. Earl of MAR and</text><path class="r" d="M300 1254H545"/>
<text class="c" x="318" y="1280" textLength="197" lengthAdjust="spacingAndGlyphs">GARIOCH 1482.</text><path class="r" d="M300 1286H496"/>
</g>
<g id="david-moray">
<text class="w" x="604" y="1127" textLength="146" lengthAdjust="spacingAndGlyphs">DAVID, cr.</text><path class="r" d="M717 1140H746"/>
<text class="w" x="604" y="1169" textLength="184" lengthAdjust="spacingAndGlyphs">Earl of MORAY</text><path class="r" d="M604 1177H793"/>
<text class="c" x="604" y="1205" textLength="72" lengthAdjust="spacingAndGlyphs">1455.</text><path class="r" d="M604 1215H705"/>
</g>
<g id="john-mar-1458">
<text class="w" x="835" y="1134" textLength="126" lengthAdjust="spacingAndGlyphs">JOHN, cr.</text><path class="r" d="M923 1140H957"/>
<text class="w" x="828" y="1168" textLength="156" lengthAdjust="spacingAndGlyphs">Earl of MAR</text><path class="r" d="M828 1174H988"/>
<text class="c" x="843" y="1205" textLength="72" lengthAdjust="spacingAndGlyphs">1458.</text><path class="r" d="M835 1211H925"/>
</g>
<g id="thomas-arran">
<text class="c" x="1018" y="1122" textLength="113" lengthAdjust="spacingAndGlyphs">THOMAS,</text>
<text class="w" x="1030" y="1158" textLength="89" lengthAdjust="spacingAndGlyphs">cr. Earl</text><path class="y" d="M1024 1168H1123"/>
<text class="w" x="1072" y="1183" textLength="19" lengthAdjust="spacingAndGlyphs">of</text>
<text class="c" x="1026" y="1210" textLength="89" lengthAdjust="spacingAndGlyphs">ARRAN</text><path class="y" d="M1024 1217H1123"/>
<text class="c" x="1030" y="1244" textLength="75" lengthAdjust="spacingAndGlyphs">1467.</text><path class="y" d="M1022 1249H1120"/>
</g>
<g id="mary-james-ii"><text class="c" x="1180" y="1119" textLength="80" lengthAdjust="spacingAndGlyphs">MARY</text></g>
<g id="james-hamilton"><text class="c" x="1315" y="1129" textLength="98" lengthAdjust="spacingAndGlyphs">JAMES.</text></g>
<g id="james-arran">
<text class="w" x="1213" y="1206" textLength="212" lengthAdjust="spacingAndGlyphs">JAMES, cr. Earl</text><path class="r" d="M1209 1212H1429"/>
<text class="w" x="1213" y="1239" textLength="225" lengthAdjust="spacingAndGlyphs">of ARRAN 1503</text><path class="r" d="M1209 1245H1440"/>
</g>
<g id="king-james-iv">
<text class="c" x="35" y="1385" textLength="206" lengthAdjust="spacingAndGlyphs">KING JAMES <tspan class="rn">IV</tspan> ,</text>
<text class="w" x="35" y="1436" textLength="157" lengthAdjust="spacingAndGlyphs">killed 1513.</text>
</g>
<g id="james-ross">
<text class="w" x="327" y="1392" textLength="402" lengthAdjust="spacingAndGlyphs">JAMES, cr. Marquis of Ormond</text>
<text class="w" x="335" y="1434" textLength="392" lengthAdjust="spacingAndGlyphs">c.1475; cr. Duke of Ross and</text><path class="r" d="M455 1440H484"/>
<text class="w" x="369" y="1468" textLength="314" lengthAdjust="spacingAndGlyphs">Earl of EDERDALE 1487.</text><path class="r" d="M361 1474H677"/>
</g>
<g id="john-mar-1486">
<text class="w" x="822" y="1385" textLength="189" lengthAdjust="spacingAndGlyphs">JOHN, cr. Earl</text><path class="r" d="M915 1393H1018"/>
<text class="w" x="820" y="1430" textLength="198" lengthAdjust="spacingAndGlyphs">of MAR 1486.</text><path class="r" d="M820 1438H1007"/>
</g>
<g id="legend" transform="rotate(-0.8 1570 1200)">
<text class="c" x="1570" y="1198" textLength="198" lengthAdjust="spacingAndGlyphs">RED UNDERLINE</text>
<path d="M1570 1209H1770" fill="none" stroke="#e23a2e" stroke-width="6"/>
<text class="w" x="1776" y="1198" textLength="676" lengthAdjust="spacingAndGlyphs">indicates that first grantee of earldom was a direct</text>
<text class="w" x="1772" y="1229" textLength="704" lengthAdjust="spacingAndGlyphs">descendant of King Robert <tspan class="rn">II</tspan> (none being more remote</text>
<text class="w" x="1774" y="1261" textLength="517" lengthAdjust="spacingAndGlyphs">than great-grandson of a king's child).</text>
<text class="c" x="1588" y="1312" textLength="212" lengthAdjust="spacingAndGlyphs">YELLOW UNDERLINE</text>
<path d="M1590 1325H1800" fill="none" stroke="#e7df7c" stroke-width="6"/>
<text class="w" x="1808" y="1312" textLength="675" lengthAdjust="spacingAndGlyphs">indicates that first grantee of earldom was married</text>
<text class="w" x="1812" y="1342" textLength="677" lengthAdjust="spacingAndGlyphs">to a descendant of King Robert <tspan class="rn">II</tspan> (within some limits).</text>
<text class="c" x="1588" y="1388" textLength="210" lengthAdjust="spacingAndGlyphs">BLACK UNDERLINE</text>
<path d="M1588 1395H1800" fill="none" stroke="#7a7a7a" stroke-width="6"/>
<text class="w" x="1814" y="1388" textLength="706" lengthAdjust="spacingAndGlyphs">are two Stewart earls, uterine brothers of King James.</text>
<text class="w" x="1812" y="1418" textLength="652" lengthAdjust="spacingAndGlyphs">and maternally of foreign (i.e. English) Blood Royal.</text>
</g>
</svg>
